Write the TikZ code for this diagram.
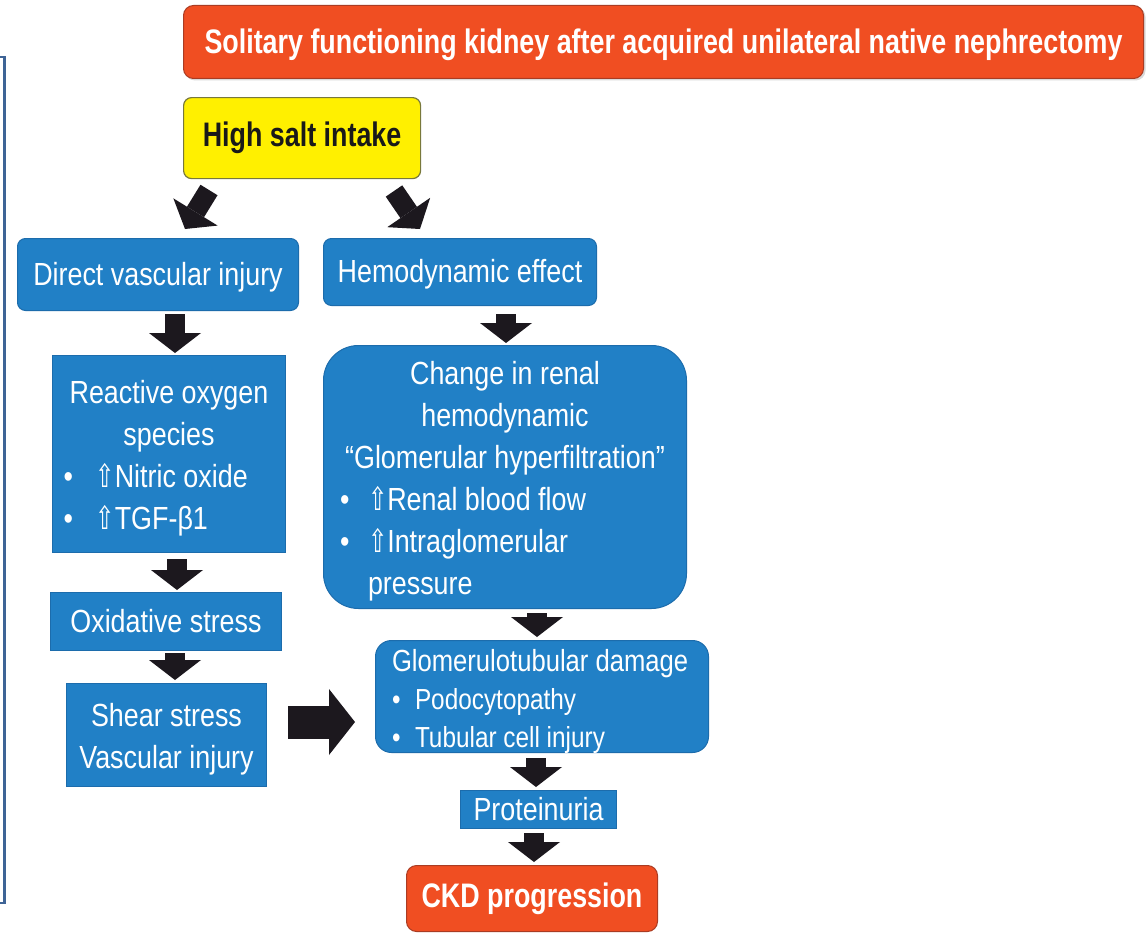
\documentclass[tikz,border=0pt]{standalone}
\usepackage{fontspec}
\usepackage{graphicx}
\setmainfont{Liberation Sans}
\newfontfamily\nar[FakeStretch=0.84]{Liberation Sans}
\newfontfamily\narb[FakeStretch=0.79]{Liberation Sans}
\newfontfamily\dvs[FakeStretch=0.72]{DejaVu Sans}
\usetikzlibrary{arrows.meta,calc}
\definecolor{bx}{RGB}{33,128,198}
\definecolor{bxd}{RGB}{28,108,172}
\definecolor{org}{RGB}{240,78,34}
\definecolor{orgd}{RGB}{170,60,35}
\definecolor{yel}{RGB}{255,240,0}
\definecolor{yeld}{RGB}{120,120,60}
\definecolor{arr}{RGB}{28,24,30}
\definecolor{frm}{RGB}{62,100,150}
\newcommand\upar{{\dvs ⇧}}
\newcommand\bulitem[2]{\par\hangindent=#1\hangafter=1\noindent\makebox[#1][l]{•}#2}
\begin{document}
\begin{tikzpicture}[x=1pt,y=-1pt,
  box/.style={draw=bxd, line width=1pt, fill=bx, text=white, inner sep=0pt,
    font=\nar\fontsize{32}{42}\selectfont, align=center, anchor=north west,
    execute at begin node={\spaceskip=0pt\xspaceskip=0pt\relax}},
  obox/.style={draw=orgd, line width=1pt, fill=org, text=white, inner sep=0pt,
    font=\narb\bfseries\fontsize{34}{40}\selectfont, align=center, anchor=north west},
  blk/.style={draw=arr, line width=20pt, -{Triangle[width=52pt,length=20pt,line width=0pt]}},
  hblk/.style={draw=arr, line width=33pt, -{Triangle[width=66pt,length=26pt,line width=0pt]}}
]
\useasboundingbox (0,0) rectangle (1146,934);
\fill[white] (0,0) rectangle (1146,934);
% left frame
\draw[frm, line width=2.5pt] (0,57) -- (4.5,57) -- (4.5,903) -- (0,903);

% title
\fill[black!15, rounded corners=10pt] (185,7) rectangle (1145.5,80.5);
\node[obox, rounded corners=10pt, minimum width=960pt, minimum height=73pt] (title) at (183,5)
  {\rule{0pt}{30pt}Solitary functioning kidney after acquired unilateral native nephrectomy};
% high salt intake
\node[obox, draw=yeld, line width=1.2pt, fill=yel, text=black!90, rounded corners=8pt,
  minimum width=237pt, minimum height=81pt] (hsi) at (183,97) {High salt intake};

% left column
\node[box, rounded corners=8pt, minimum width=281pt, minimum height=72pt] (direct) at (17,238)
  {\rule{0pt}{28pt}Direct vascular injury};
\node[box, minimum width=233pt, minimum height=197pt, text width=211pt, align=left] (ros) at (52,355)
  {{\centering \rule{0pt}{32pt}Reactive oxygen\\ species\par}%
   \bulitem{32pt}{\upar Nitric oxide}%
   \bulitem{32pt}{\upar TGF-β1}\par};
\node[box, minimum width=231pt, minimum height=58pt] (oxi) at (50,592) {Oxidative stress};
\node[box, minimum width=200pt, minimum height=103pt] (shear) at (66,683)
  {\rule{0pt}{31pt}Shear stress\\ Vascular injury};

% right column
\node[box, rounded corners=8pt, minimum width=273pt, minimum height=67pt] (hemo) at (323,238)
  {\rule{0pt}{28pt}Hemodynamic effect};
\node[box, rounded corners=35pt, minimum width=363pt, minimum height=263pt, text width=330pt, align=left] (renal) at (323,345)
  {{\centering \rule{0pt}{31pt}Change in renal\\ hemodynamic\\ “Glomerular hyperfiltration”\par}%
   \bulitem{28pt}{\upar Renal blood flow}%
   \bulitem{28pt}{\upar Intraglomerular\hfil\break pressure}\par};
\node[box, rounded corners=16pt, minimum width=333pt, minimum height=112pt, text width=300pt, align=left,
  font=\nar\fontsize{29}{38}\selectfont] (glom) at (375,640)
  {{\fontsize{30.5}{38}\selectfont Glomerulotubular damage}%
   \bulitem{23pt}{Podocytopathy}%
   \bulitem{23pt}{Tubular cell injury}\par\vspace{-10pt}};
\node[box, minimum width=156pt, minimum height=38pt] (prot) at (460,790) {Proteinuria};
\node[obox, rounded corners=10pt, minimum width=251pt, minimum height=66pt] (ckd) at (406,865)
  {CKD progression};

% arrows
\coordinate (la) at (209,190);
\coordinate (lb) at (185,229);
\coordinate (ra) at (394,191);
\coordinate (rb) at (420,229);
\draw[blk] (la) -- (lb);
\draw[blk] (ra) -- (rb);

\coordinate (c1) at (175,0);
\coordinate (c2) at (506,0);
\coordinate (c3) at (177,0);
\coordinate (c4) at (537,0);
\coordinate (c5) at (536,0);
\coordinate (c6) at (534,0);
\coordinate (h1) at (0,722);
\draw[blk, shorten <=3pt, shorten >=2pt] (direct.south -| c1) -- (ros.north -| c1);
\draw[blk, shorten <=8pt, shorten >=2pt] (hemo.south -| c2) -- (renal.north -| c2);
\draw[blk, shorten <=6pt, shorten >=2pt] (ros.south -| c3) -- (oxi.north -| c3);
\draw[blk, shorten <=2pt, shorten >=3pt] (oxi.south -| c1) -- (shear.north -| c1);
\draw[blk, shorten <=4pt, shorten >=3pt] (renal.south -| c4) -- (glom.north -| c4);
\draw[blk, shorten <=5pt, shorten >=3pt] (glom.south -| c5) -- (prot.north -| c5);
\draw[blk, shorten <=4pt, shorten >=3pt] (prot.south -| c6) -- (ckd.north -| c6);
\draw[hblk, shorten <=21pt, shorten >=20pt] (shear.east |- h1) -- (glom.west |- h1);
\end{tikzpicture}
\end{document}
